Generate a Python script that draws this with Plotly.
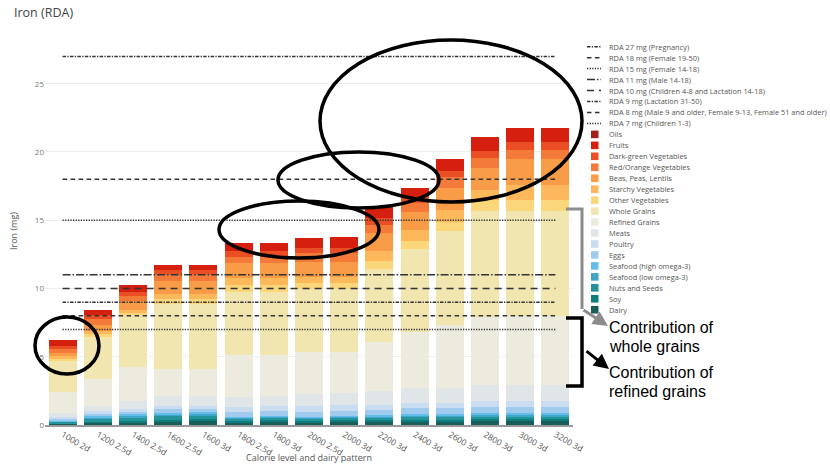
import plotly.graph_objects as go

# ---------------- data ----------------
categories = ["1000 2d", "1200 2.5d", "1400 2.5d", "1600 2.5d", "1600 3d",
              "1800 2.5d", "1800 3d", "2000 2.5d", "2000 3d", "2200 3d",
              "2400 3d", "2600 3d", "2800 3d", "3000 3d", "3200 3d"]

dairy      = [0.08, 0.15, 0.20, 0.25, 0.32, 0.20, 0.28, 0.20, 0.28, 0.25, 0.28, 0.28, 0.30, 0.30, 0.30]
soy        = [0.05, 0.08, 0.10, 0.12, 0.12, 0.10, 0.10, 0.10, 0.10, 0.12, 0.12, 0.12, 0.15, 0.15, 0.15]
nuts       = [0.10, 0.25, 0.27, 0.30, 0.28, 0.17, 0.17, 0.17, 0.17, 0.20, 0.22, 0.22, 0.20, 0.20, 0.20]
sea_low    = [0.05, 0.10, 0.10, 0.12, 0.10, 0.07, 0.07, 0.07, 0.07, 0.08, 0.09, 0.09, 0.10, 0.10, 0.10]
sea_high   = [0.05, 0.10, 0.10, 0.10, 0.10, 0.07, 0.07, 0.07, 0.07, 0.08, 0.09, 0.09, 0.15, 0.15, 0.15]
eggs       = [0.14, 0.16, 0.20, 0.28, 0.28, 0.37, 0.37, 0.37, 0.37, 0.40, 0.48, 0.48, 0.45, 0.45, 0.45]
poultry    = [0.12, 0.15, 0.17, 0.20, 0.20, 0.36, 0.36, 0.41, 0.41, 0.30, 0.30, 0.30, 0.40, 0.40, 0.40]
meats      = [0.30, 0.39, 0.60, 0.73, 0.73, 0.73, 0.68, 0.88, 0.85, 1.05, 1.10, 1.10, 1.15, 1.15, 1.15]
refined    = [1.51, 2.00, 2.52, 2.03, 1.97, 3.06, 3.03, 3.06, 3.05, 3.62, 4.16, 4.65, 5.04, 5.09, 5.09]
whole      = [2.32, 3.05, 3.84, 4.70, 4.73, 4.59, 4.59, 4.61, 4.57, 5.33, 6.05, 6.91, 7.74, 7.69, 7.69]
other_veg  = [0.12, 0.20, 0.12, 0.37, 0.37, 0.54, 0.54, 0.49, 0.49, 0.61, 0.61, 0.66, 0.81, 0.81, 0.81]
starchy    = [0.20, 0.24, 0.24, 0.37, 0.37, 0.49, 0.49, 0.44, 0.44, 0.71, 0.78, 0.85, 0.73, 1.10, 1.10]
beans      = [0.24, 0.49, 0.61, 0.98, 0.98, 1.10, 1.10, 1.10, 1.10, 1.29, 1.34, 1.59, 1.59, 1.88, 1.88]
red_orange = [0.29, 0.37, 0.37, 0.49, 0.49, 0.49, 0.49, 0.61, 0.61, 0.61, 0.66, 0.81, 0.73, 0.68, 0.68]
dark_green = [0.24, 0.32, 0.29, 0.32, 0.32, 0.37, 0.37, 0.37, 0.39, 0.49, 0.39, 0.49, 0.56, 0.61, 0.61]
fruits     = [0.44, 0.37, 0.56, 0.34, 0.34, 0.61, 0.61, 0.76, 0.78, 0.81, 0.71, 0.83, 0.98, 0.98, 0.98]
oils       = [0.00, 0.00, 0.00, 0.00, 0.00, 0.00, 0.00, 0.00, 0.00, 0.00, 0.00, 0.00, 0.00, 0.00, 0.00]

food_names = ["Dairy", "Soy", "Nuts and Seeds", "Seafood (low omega-3)", "Seafood (high omega-3)",
              "Eggs", "Poultry", "Meats", "Refined Grains", "Whole Grains", "Other Vegetables",
              "Starchy Vegetables", "Beas, Peas, Lentils", "Red/Orange Vegetables",
              "Dark-green Vegetables", "Fruits", "Oils"]
food_values = [dairy, soy, nuts, sea_low, sea_high, eggs, poultry, meats, refined, whole,
               other_veg, starchy, beans, red_orange, dark_green, fruits, oils]

rda_values = [7, 8, 9, 10, 11, 15, 18, 27]
rda_labels = ["RDA 7 mg (Children 1-3)",
              "RDA 8 mg (Male 9 and older, Female 9-13, Female 51 and older)",
              "RDA 9 mg (Lactation 31-50)",
              "RDA 10 mg (Children 4-8 and Lactation 14-18)",
              "RDA 11 mg (Male 14-18)",
              "RDA 15 mg (Female 14-18)",
              "RDA 18 mg (Female 19-50)",
              "RDA 27 mg (Pregnancy)"]

y_ticks = [0, 5, 10, 15, 20, 25]

# ---------------- styles ----------------
food_colors = {
    "Dairy": "#1a5e5a", "Soy": "#0e7d7d", "Nuts and Seeds": "#25949a",
    "Seafood (low omega-3)": "#3fa6c9", "Seafood (high omega-3)": "#64bce8",
    "Eggs": "#a1cbee", "Poultry": "#c9dcf0", "Meats": "#e0e6e8",
    "Refined Grains": "#ecebde", "Whole Grains": "#f1e5b0", "Other Vegetables": "#fcd67a",
    "Starchy Vegetables": "#fdb85c", "Beas, Peas, Lentils": "#f99c47",
    "Red/Orange Vegetables": "#f47a3a", "Dark-green Vegetables": "#e94e25",
    "Fruits": "#d51f0f", "Oils": "#a3201d",
}
rda_dash = {
    27: "3.5px,1.3px,1.3px,1.3px", 18: "4.5px,3.5px", 15: "1.3px,1.3px",
    11: "8px,2px,1.5px,2px", 10: "7px,5px", 9: "3.5px,1.3px,1.3px,1.3px",
    8: "4.5px,3.5px", 7: "1.3px,1.3px",
}
LINE_COLOR = "#333333"

W, H = 830, 467
PX0, PX1, PY0, PY1 = 45, 573, 37, 425  # plot area in pixels
Y_MAX = 28.42


def px(x):
    return (x - PX0) / (PX1 - PX0)


def py(y):
    return (PY1 - y) / (PY1 - PY0)


fig = go.Figure()

for name, vals in zip(food_names, food_values):
    fig.add_trace(go.Bar(x=categories, y=vals, name=name,
                         marker=dict(color=food_colors[name], line=dict(width=0)),
                         showlegend=False))

for v, lab in zip(rda_values, rda_labels):
    fig.add_trace(go.Scatter(x=categories, y=[v] * len(categories), mode="lines", name=lab,
                             line=dict(color=LINE_COLOR, width=1.5, dash=rda_dash[v]),
                             showlegend=False))

shapes = []
annotations = []

# ---------- custom compact legend ----------
legend_items = [("line", v, lab) for v, lab in zip(rda_values[::-1], rda_labels[::-1])] + \
               [("box", n, n) for n in food_names[::-1]]
ly = 46.7
for kind, key, lab in legend_items:
    if kind == "line":
        shapes.append(dict(type="line", xref="paper", yref="paper",
                           x0=px(587), x1=px(601), y0=py(ly), y1=py(ly),
                           line=dict(color=LINE_COLOR, width=1.5, dash=rda_dash[key])))
    else:
        shapes.append(dict(type="rect", xref="paper", yref="paper",
                           x0=px(591), x1=px(598.5), y0=py(ly - 3.8), y1=py(ly + 3.8),
                           fillcolor=food_colors[key], line=dict(width=0)))
    annotations.append(dict(text=lab, xref="paper", yref="paper", x=px(606.5), y=py(ly),
                            xanchor="left", yanchor="middle", showarrow=False,
                            font=dict(family="Open Sans", size=7.4, color="#555555")))
    ly += 10.96

# ---------- titles ----------
annotations.append(dict(text="Iron (RDA)", xref="paper", yref="paper", x=px(12), y=py(12),
                        xanchor="left", yanchor="middle", showarrow=False,
                        font=dict(family="Open Sans", size=12.5, color="#444444")))
annotations.append(dict(text="Iron (mg)", xref="paper", yref="paper", x=px(13), y=py(231),
                        xanchor="center", yanchor="middle", textangle=-90, showarrow=False,
                        font=dict(family="Open Sans", size=9, color="#555555")))
annotations.append(dict(text="Calorie level and dairy pattern", xref="paper", yref="paper",
                        x=px(309), y=py(458), xanchor="center", yanchor="middle", showarrow=False,
                        font=dict(family="Open Sans", size=9, color="#555555")))

# ---------- hand-drawn highlights ----------
ellipses = [(35, 317, 99, 374), (219, 201, 379, 258), (278, 152, 439, 208), (320, 40, 582, 202)]
for x0, y0, x1, y1 in ellipses:
    shapes.append(dict(type="circle", xref="paper", yref="paper",
                       x0=px(x0), x1=px(x1), y0=py(y1), y1=py(y0),
                       line=dict(color="black", width=3.5)))

shapes.append(dict(type="path", xref="paper", yref="paper",
                   path=f"M {px(566)},{py(209)} L {px(582)},{py(209)} L {px(582)},{py(309)}",
                   line=dict(color="#8c8c8c", width=3)))
shapes.append(dict(type="path", xref="paper", yref="paper",
                   path=f"M {px(566)},{py(318)} L {px(582)},{py(318)} L {px(582)},{py(386)} L {px(566)},{py(386)}",
                   line=dict(color="black", width=3.5)))

annotations.append(dict(text="", xref="paper", yref="paper", x=px(608), y=py(326),
                        ax=-26, ay=-17, showarrow=True, arrowhead=2, arrowsize=1,
                        arrowwidth=3, arrowcolor="#8c8c8c"))
annotations.append(dict(text="", xref="paper", yref="paper", x=px(609), y=py(369),
                        ax=-24, ay=-19, showarrow=True, arrowhead=2, arrowsize=1,
                        arrowwidth=3, arrowcolor="black"))

for txt, yy in [("Contribution of", 327.5), ("whole grains", 346),
                ("Contribution of", 372), ("refined grains", 391)]:
    annotations.append(dict(text=txt, xref="paper", yref="paper", x=px(607), y=py(yy),
                            xanchor="left", yanchor="middle", showarrow=False,
                            font=dict(family="Liberation Sans", size=16, color="black")))

fig.update_layout(
    width=W, height=H, autosize=False,
    margin=dict(l=PX0, r=W - PX1, t=PY0, b=H - PY1, pad=0),
    barmode="stack", bargap=0.2,
    plot_bgcolor="white", paper_bgcolor="white",
    showlegend=False,
    font=dict(family="Open Sans", color="#555555"),
    shapes=shapes, annotations=annotations,
    xaxis=dict(type="category", showgrid=False, showline=True, linecolor="#999999",
               linewidth=1.5, ticks="", tickangle=30, automargin=False,
               tickfont=dict(family="Open Sans", size=8.5, color="#555555")),
    yaxis=dict(range=[0, Y_MAX], tickvals=y_ticks, showgrid=True, gridcolor="#eeeeee",
               zeroline=False, showline=False, ticks="", automargin=False,
               tickfont=dict(family="Open Sans", size=8, color="#777777")),
)

fig.write_html("out.html")
